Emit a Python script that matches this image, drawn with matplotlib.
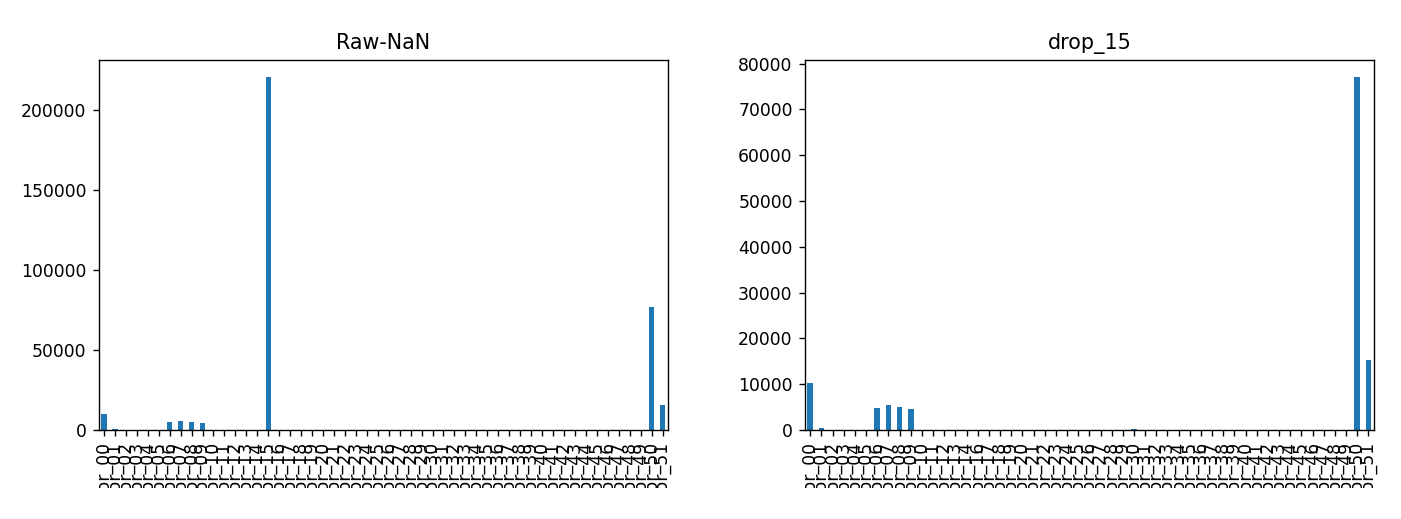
import matplotlib
matplotlib.use("Agg")
import matplotlib.pyplot as plt
from matplotlib.patches import Rectangle
import numpy as np

sensors = [f"sensor_{i:02d}" for i in range(52)]
nan_counts = [10208, 369, 19, 19, 19, 19, 4798, 5451, 5107, 4595,
              19, 19, 19, 19, 21, 220320, 31, 46, 46, 16,
              16, 16, 41, 16, 16, 36, 20, 16, 16, 72,
              261, 16, 68, 16, 16, 16, 16, 16, 27, 27,
              27, 27, 27, 27, 27, 27, 27, 27, 27, 27,
              77017, 15383]

drop_sensors = [s for s in sensors if s != "sensor_15"]
drop_counts = [c for s, c in zip(sensors, nan_counts) if s != "sensor_15"]

DPI = 124
W, H = 1401, 519
fig = plt.figure(figsize=(W / DPI, H / DPI), dpi=DPI)

def axpos(x0, x1, ytop, ybot):
    return [x0 / W, 1 - ybot / H, (x1 - x0) / W, (ybot - ytop) / H]

ax1 = fig.add_axes(axpos(98.5, 668, 59.7, 430))
ax2 = fig.add_axes(axpos(804.7, 1374, 59.7, 430))

def draw(ax, labels, vals, title):
    x = np.arange(len(labels))
    ax.bar(x, vals, width=0.5, color="#1f77b4")
    ax.set_xlim(-0.5, len(labels) - 0.5)
    ax.set_ylim(0, max(vals) * 1.05)
    ax.set_xticks(x)
    ax.set_xticklabels(labels, rotation=90)
    ax.set_title(title)

draw(ax1, sensors, nan_counts, "Raw-NaN")
draw(ax2, drop_sensors, drop_counts, "drop_15")
ax2.set_yticks(np.arange(0, 80001, 10000))

# the original figure was cropped just below the tick labels' first characters
cut = 488
fig.patches.append(Rectangle((0, 0), 1, (H - cut) / H, transform=fig.transFigure,
                             facecolor="white", edgecolor="none", zorder=100))

fig.savefig("out.png", dpi=DPI)
